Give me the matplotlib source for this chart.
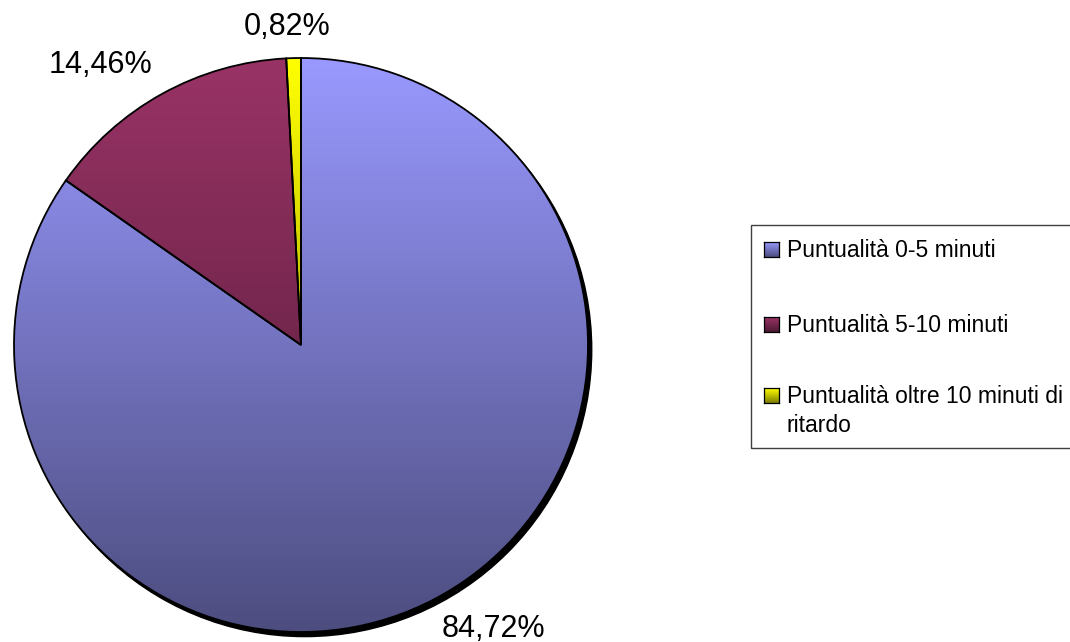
import numpy as np
import matplotlib
matplotlib.use('Agg')
import matplotlib.pyplot as plt
from matplotlib.patches import Rectangle, Circle
from matplotlib.colors import to_rgb

# dati del grafico
categorie = ['Puntualità 0-5 minuti', 'Puntualità 5-10 minuti',
             'Puntualità oltre 10 minuti di\nritardo']
valori = [84.72, 14.46, 0.82]
etichette = ['84,72%', '14,46%', '0,82%']
colori = ['#9999FF', '#993366', '#FFFF00']

plt.rcParams['font.family'] = ['Liberation Sans', 'DejaVu Sans']

W, H = 1070, 642
fig = plt.figure(figsize=(W / 100, H / 100), dpi=100)

# pie centre and radius in pixels
cx, cy, r = 301, 345, 287
ax = fig.add_axes([(cx - r) / W, (H - cy - r) / H, 2 * r / W, 2 * r / H])


def gradient(c, n=256):
  # light at the top, darker towards the bottom
  base = np.array(to_rgb(c))
  t = np.linspace(0, 1, n)[:, None, None]
  return base[None, None, :] * (1 - 0.5 * t)


# shadow behind the pie
ax.add_patch(Circle((0.013, -0.016), 1, color='black', zorder=0, clip_on=False))

wedges, _ = ax.pie(valori, startangle=90, counterclock=False, radius=1,
                   wedgeprops=dict(edgecolor='black', linewidth=1.3))
for w, c in zip(wedges, colori):
  w.set_facecolor('none')
  w.set_zorder(3)
  im = ax.imshow(gradient(c), extent=[-1, 1, -1, 1], origin='upper',
                 aspect='auto', zorder=2)
  im.set_clip_path(w)

ax.set_xlim(-1, 1)
ax.set_ylim(-1, 1)
ax.set_aspect('auto')
ax.axis('off')

# data labels (baseline positions in data units)
pos_etichette = [(0.672, -1.017), (-0.697, 0.948), (-0.049, 1.080)]
for lab, (x, y) in zip(etichette, pos_etichette):
  ax.text(x, y, lab, ha='center', va='baseline', fontsize=22, clip_on=False)

# legend drawn by hand, in pixel coords
def px(x, y):
  return x / W, (H - y) / H

fig.patches.append(Rectangle(px(751, 448), (1080 - 751) / W, (448 - 225) / H,
                             transform=fig.transFigure, facecolor='none',
                             edgecolor='#404040', linewidth=1.0))

righe = [257, 332, 403]
for lab, c, yb in zip(categorie, colori, righe):
  # marker with gradient
  x0, y0 = px(764, yb)
  mk = fig.add_axes([x0, y0, 15 / W, 15 / H])
  mk.imshow(gradient(c, 32), extent=[0, 1, 0, 1], aspect='auto', origin='upper')
  mk.set_xticks([])
  mk.set_yticks([])
  for s in mk.spines.values():
    s.set_linewidth(0.9)
    s.set_color('black')
  for i, line in enumerate(lab.split('\n')):
    fig.text(*px(787, yb + i * 29), line, ha='left', va='baseline', fontsize=16.5)

fig.savefig('out.png', dpi=100)
